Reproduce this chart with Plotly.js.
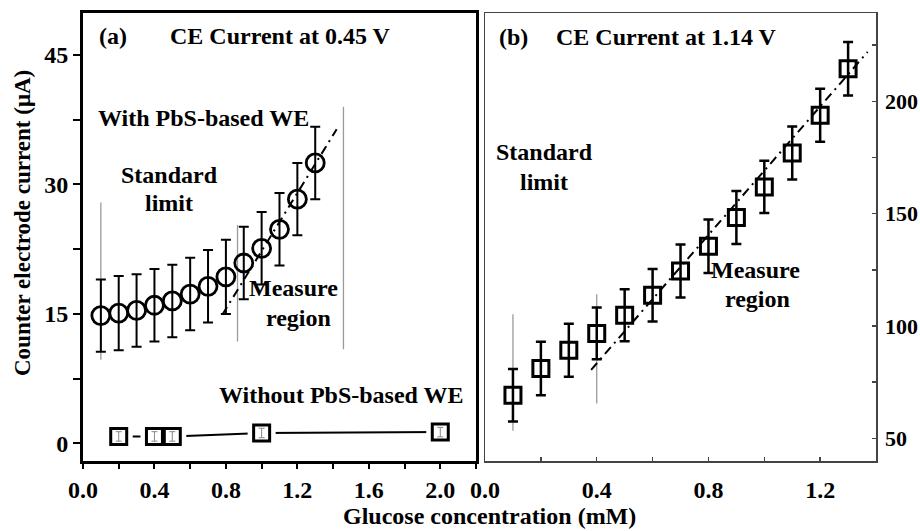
<!DOCTYPE html>
<html>
<head>
<meta charset="utf-8">
<script src="https://cdn.plot.ly/plotly-3.0.1.min.js"></script>
<style>
  html, body { margin: 0; padding: 0; background: #fff; }
  #chart { width: 920px; height: 531px; }
</style>
</head>
<body>
<div id="chart"></div>
<script>
// ---- Panel (a): counter-electrode current at 0.45 V ----
const concA = [0.1, 0.2, 0.3, 0.4, 0.5, 0.6, 0.7, 0.8, 0.9, 1.0, 1.1, 1.2, 1.3];
const currentA = [14.8, 15.1, 15.4, 16.0, 16.5, 17.3, 18.2, 19.3, 20.9, 22.6, 24.8, 28.3, 32.5];
const errA = [4.2, 4.3, 4.2, 4.2, 4.2, 4.2, 4.2, 4.3, 4.2, 4.2, 4.2, 4.2, 4.2];

const concNoPbS = [0.2, 0.4, 0.5, 1.0, 2.0];
const currentNoPbS = [0.8, 0.8, 0.8, 1.2, 1.3];
const errNoPbS = [0.55, 0.55, 0.55, 0.55, 0.55];

const fitA_x = [0.78, 1.42];
const fitA_y = [14.9, 36.4];

// boundary markers (standard limit / measure region), segments split by null
const limitA_x = [0.1, 0.1, null, 0.865, 0.865, null, 1.458, 1.458];
const limitA_y = [9.7, 27.9, null, 11.8, 25.3, null, 10.9, 39.0];

// ---- Panel (b): counter-electrode current at 1.14 V ----
const concB = [0.1, 0.2, 0.3, 0.4, 0.5, 0.6, 0.7, 0.8, 0.9, 1.0, 1.1, 1.2, 1.3];
const currentB = [69.2, 81.1, 89.2, 96.7, 104.8, 113.7, 124.5, 135.5, 148.3, 161.9, 177.0, 193.8, 214.5];
const errB = [11.7, 11.9, 11.8, 11.5, 11.6, 11.7, 11.8, 11.9, 11.8, 11.6, 11.8, 11.8, 11.9];

const fitB_x = [0.38, 1.37];
const fitB_y = [80.5, 222];

const limitB_x = [0.1, 0.1, null, 0.4, 0.4];
const limitB_y = [53.4, 105.2, null, 65.5, 114.1];

// ---- styling ----
const serif = '"Liberation Serif", "Times New Roman", Times, serif';
const boldFont = (size) => ({ family: serif, size: size, color: '#000', weight: 'bold' });
const guideColor = '#9a9a9a';
const labelSize = 24;
const fitDash = '9px,5px,2px,5px';

const traces = [
  // panel (a)
  { x: limitA_x, y: limitA_y, xaxis: 'x', yaxis: 'y', mode: 'lines',
    line: { color: guideColor, width: 1.3 }, hoverinfo: 'skip', showlegend: false },
  { x: fitA_x, y: fitA_y, xaxis: 'x', yaxis: 'y', mode: 'lines',
    line: { color: '#000', width: 2, dash: fitDash }, showlegend: false },
  { x: concA, y: currentA, xaxis: 'x', yaxis: 'y', mode: 'markers',
    marker: { symbol: 'circle-open', size: 18, color: '#000', line: { width: 2.8, color: '#000' } },
    error_y: { type: 'data', array: errA, visible: true, color: '#000', thickness: 2, width: 5 },
    showlegend: false },
  // without PbS: connecting line, white gap around each symbol, then the symbols
  { x: concNoPbS, y: currentNoPbS, xaxis: 'x', yaxis: 'y', mode: 'lines',
    line: { color: '#000', width: 2 }, showlegend: false, hoverinfo: 'skip' },
  { x: concNoPbS, y: currentNoPbS, xaxis: 'x', yaxis: 'y', mode: 'markers',
    marker: { symbol: 'square', size: 28, color: '#fff', line: { width: 0 } },
    showlegend: false, hoverinfo: 'skip' },
  { x: concNoPbS, y: currentNoPbS, xaxis: 'x', yaxis: 'y', mode: 'markers',
    marker: { symbol: 'square-open', size: 16, color: '#000', line: { width: 3, color: '#000' } },
    error_y: { type: 'data', array: errNoPbS, visible: true, color: '#888', thickness: 1, width: 3 },
    showlegend: false },

  // panel (b)
  { x: limitB_x, y: limitB_y, xaxis: 'x2', yaxis: 'y2', mode: 'lines',
    line: { color: guideColor, width: 1.3 }, hoverinfo: 'skip', showlegend: false },
  { x: fitB_x, y: fitB_y, xaxis: 'x2', yaxis: 'y2', mode: 'lines',
    line: { color: '#000', width: 2, dash: fitDash }, showlegend: false },
  { x: concB, y: currentB, xaxis: 'x2', yaxis: 'y2', mode: 'markers',
    marker: { symbol: 'square-open', size: 16, color: '#000', line: { width: 3, color: '#000' } },
    error_y: { type: 'data', array: errB, visible: true, color: '#000', thickness: 2.5, width: 5 },
    showlegend: false }
];

const axA = {
  showline: true, linecolor: '#000', linewidth: 3, mirror: true,
  showgrid: false, zeroline: false,
  ticks: 'outside', tickcolor: '#000', tickwidth: 2,
  tickfont: boldFont(24)
};
const axB = {
  showline: true, linecolor: '#444', linewidth: 1.5, mirror: true,
  showgrid: false, zeroline: false,
  ticks: 'inside', tickcolor: '#444', tickwidth: 1.5, ticklen: 4,
  tickfont: boldFont(24)
};

const yDomain = [0.1318, 0.9755];

const note = (xref, yref, x, y, text, anchor) => ({
  xref: xref, yref: yref, x: x, y: y, text: text, showarrow: false,
  xanchor: anchor || 'center', yanchor: 'middle', font: boldFont(labelSize)
});

const layout = {
  width: 920, height: 531,
  margin: { l: 0, r: 0, t: 0, b: 0 },
  paper_bgcolor: '#fff', plot_bgcolor: '#fff',
  showlegend: false,
  xaxis: Object.assign({}, axA, {
    domain: [0.0902, 0.5174], range: [0, 2.2], anchor: 'y',
    tick0: 0, dtick: 0.4, tickformat: '.1f', ticklen: 5, ticklabelstandoff: 0,
    minor: { dtick: 0.2, ticks: 'outside', ticklen: 5, tickwidth: 2, tickcolor: '#000' }
  }),
  yaxis: Object.assign({}, axA, {
    domain: yDomain, range: [-2.05, 49.87], anchor: 'x',
    tick0: 0, dtick: 15, ticklen: 7, ticklabelstandoff: 0,
    minor: { dtick: 7.5, ticks: 'outside', ticklen: 7, tickwidth: 2, tickcolor: '#000' }
  }),
  xaxis2: Object.assign({}, axB, {
    domain: [0.5272, 0.9522], range: [0, 1.4], anchor: 'y2',
    tick0: 0, dtick: 0.4, tickformat: '.1f', ticklabelstandoff: 7,
    minor: { dtick: 0.2, ticks: 'inside', ticklen: 4, tickwidth: 1.5, tickcolor: '#444' }
  }),
  yaxis2: Object.assign({}, axB, {
    domain: yDomain, range: [39.9, 239.3], anchor: 'x2', side: 'right',
    tick0: 0, dtick: 50, ticklabelstandoff: 3, tickfont: boldFont(22),
    minor: { dtick: 25, ticks: 'inside', ticklen: 4, tickwidth: 1.5, tickcolor: '#444' }
  }),
  annotations: [
    // axis titles
    { xref: 'paper', yref: 'paper', x: 0.5326, y: 0.0282, text: 'Glucose concentration (mM)',
      showarrow: false, xanchor: 'center', yanchor: 'middle', font: boldFont(24) },
    { xref: 'paper', yref: 'paper', x: 0.0239, y: 0.58, text: 'Counter electrode current (μA)',
      showarrow: false, textangle: -90, xanchor: 'center', yanchor: 'middle', font: boldFont(23) },

    // panel (a) labels
    note('x', 'y', 0.08, 47.2, '(a)', 'left'),
    note('x', 'y', 1.105, 47.2, 'CE Current at 0.45 V'),
    note('x', 'y', 0.673, 37.7, 'With PbS-based WE'),
    note('x', 'y', 0.483, 31.1, 'Standard'),
    note('x', 'y', 0.483, 27.9, 'limit'),
    note('x', 'y', 1.177, 18.0, 'Measure'),
    note('x', 'y', 1.205, 14.5, 'region'),
    note('x', 'y', 1.445, 5.6, 'Without PbS-based WE'),

    // panel (b) labels
    note('x2', 'y2', 0.043, 228.5, '(b)', 'left'),
    note('x2', 'y2', 0.649, 228.5, 'CE Current at 1.14 V'),
    note('x2', 'y2', 0.212, 177.3, 'Standard'),
    note('x2', 'y2', 0.212, 164.0, 'limit'),
    note('x2', 'y2', 0.967, 124.8, 'Measure'),
    note('x2', 'y2', 0.977, 111.9, 'region')
  ]
};

Plotly.newPlot('chart', traces, layout, { displayModeBar: false, staticPlot: true });
</script>
</body>
</html>
